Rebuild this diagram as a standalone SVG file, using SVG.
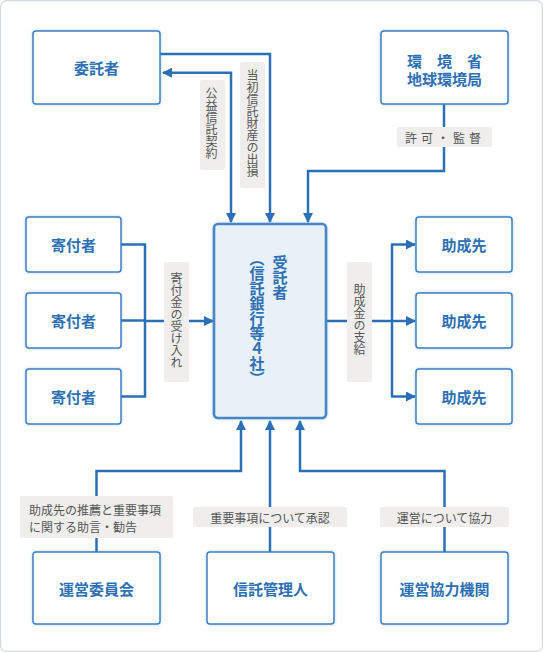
<svg xmlns="http://www.w3.org/2000/svg" width="543" height="652" viewBox="0 0 543 652">
<defs>
<style>
.frame{fill:#fff;stroke:#d3d9df;stroke-width:1.2}
.box{fill:#fff;stroke:#3d7fc2;stroke-width:1.5;filter:url(#glow)}
.main{fill:#e8f0f8;stroke:#4a86c4;stroke-width:2.6;filter:url(#glow)}
.nt{font-family:"Noto Sans CJK JP","Noto Sans",sans-serif;font-size:15px;font-weight:bold;fill:#2d6fb3;text-anchor:middle;dominant-baseline:central}
.ln{fill:none;stroke:#2b70b6;stroke-width:2.5}
.lbl{fill:#efeeed}
.lt{font-family:"Noto Sans CJK JP","Noto Sans",sans-serif;font-size:12px;fill:#555;dominant-baseline:central}
.c{text-anchor:middle}
.v{writing-mode:vertical-rl;text-anchor:middle}
</style>
<filter id="glow" x="-10%" y="-10%" width="120%" height="120%">
<feDropShadow dx="0" dy="0" stdDeviation="1.5" flood-color="#3d7fc2" flood-opacity="0.35"/>
</filter>
<marker id="ah" viewBox="0 0 10 10" refX="9" refY="5" markerUnits="userSpaceOnUse" markerWidth="10" markerHeight="10" orient="auto-start-reverse">
<path d="M0,0 L10,5 L0,10 z" fill="#2b70b6"/>
</marker>
</defs>
<rect class="frame" x="0.6" y="0.6" width="541.8" height="650.8" rx="6"/>

<g id="connectors">
<path class="ln" d="M160,54 H270 V222" marker-end="url(#ah)"/>
<path class="ln" d="M231,222 V72.7 H163" marker-start="url(#ah)" marker-end="url(#ah)"/>
<path class="ln" d="M444,104 V171 H308 V222" marker-end="url(#ah)"/>
<path class="ln" d="M121,244.5 H145 V396.5 H121 M121,320.5 H145"/>
<path class="ln" d="M145,321 H213" marker-end="url(#ah)"/>
<path class="ln" d="M326,321 H392 M392,244.5 V396.5"/>
<path class="ln" d="M391,244.5 H415" marker-end="url(#ah)"/>
<path class="ln" d="M391,321 H415" marker-end="url(#ah)"/>
<path class="ln" d="M391,396.5 H415" marker-end="url(#ah)"/>
<path class="ln" d="M96.5,552 V471 H241 V421" marker-end="url(#ah)"/>
<path class="ln" d="M270,552 V421" marker-end="url(#ah)"/>
<path class="ln" d="M444.5,552 V471 H300 V421" marker-end="url(#ah)"/>
</g>

<g id="labels">
<rect class="lbl" x="200" y="80" width="25" height="90" rx="2"/>
<text class="lt v" x="211.5" y="123">公益信託契約</text>
<rect class="lbl" x="240" y="62" width="25" height="126" rx="2"/>
<text class="lt v" x="252.5" y="123">当初信託財産の出損</text>
<rect class="lbl" x="397" y="127" width="95" height="20" rx="2"/>
<text class="lt c" x="445" y="137" letter-spacing="4">許可・監督</text>
<rect class="lbl" x="164" y="262" width="25" height="120" rx="2"/>
<text class="lt v" x="176.5" y="320">寄付金の受け入れ</text>
<rect class="lbl" x="347" y="262" width="25" height="120" rx="2"/>
<text class="lt v" x="359.5" y="319">助成金の支給</text>
<rect class="lbl" x="20" y="496" width="153" height="42" rx="2"/>
<text class="lt"><tspan x="29" y="509">助成先の推薦と重要事項</tspan><tspan x="29" y="526">に関する助言・勧告</tspan></text>
<rect class="lbl" x="193" y="507" width="154" height="20" rx="2"/>
<text class="lt c" x="270" y="517">重要事項について承認</text>
<rect class="lbl" x="380" y="507" width="129" height="20" rx="2"/>
<text class="lt c" x="444.5" y="517">運営について協力</text>
</g>

<g id="itakusha"><rect class="box" x="33" y="31" width="127" height="73" rx="3"/><text class="nt" x="96.5" y="67">委託者</text></g>
<g id="kankyosho"><rect class="box" x="381" y="31" width="127" height="73" rx="3"/><text class="nt"><tspan x="444.5" y="60">環　境　省</tspan><tspan x="444.5" y="78">地球環境局</tspan></text></g>
<g id="kifusha1"><rect class="box" x="26" y="217" width="95" height="55" rx="3"/><text class="nt" x="73.5" y="244.5">寄付者</text></g>
<g id="kifusha2"><rect class="box" x="26" y="293" width="95" height="55" rx="3"/><text class="nt" x="73.5" y="320.5">寄付者</text></g>
<g id="kifusha3"><rect class="box" x="26" y="369" width="95" height="55" rx="3"/><text class="nt" x="73.5" y="396.5">寄付者</text></g>
<g id="jutakusha"><rect class="main" x="214" y="224" width="112" height="194" rx="4"/>
<text class="nt v" x="280" y="277">受託者</text>
<text class="nt v" x="257" y="318">（信託銀行等４社）</text>
</g>
<g id="josei1"><rect class="box" x="416" y="217" width="96" height="55" rx="3"/><text class="nt" x="464" y="244.5">助成先</text></g>
<g id="josei2"><rect class="box" x="416" y="293" width="96" height="55" rx="3"/><text class="nt" x="464" y="320.5">助成先</text></g>
<g id="josei3"><rect class="box" x="416" y="369" width="96" height="55" rx="3"/><text class="nt" x="464" y="396.5">助成先</text></g>
<g id="uneiiinkai"><rect class="box" x="33" y="552" width="127" height="72" rx="3"/><text class="nt" x="96.5" y="588">運営委員会</text></g>
<g id="shintakukanrinin"><rect class="box" x="207" y="552" width="127" height="72" rx="3"/><text class="nt" x="270.5" y="588">信託管理人</text></g>
<g id="uneikyoryoku"><rect class="box" x="381" y="552" width="127" height="72" rx="3"/><text class="nt" x="444.5" y="588">運営協力機関</text></g>
</svg>
